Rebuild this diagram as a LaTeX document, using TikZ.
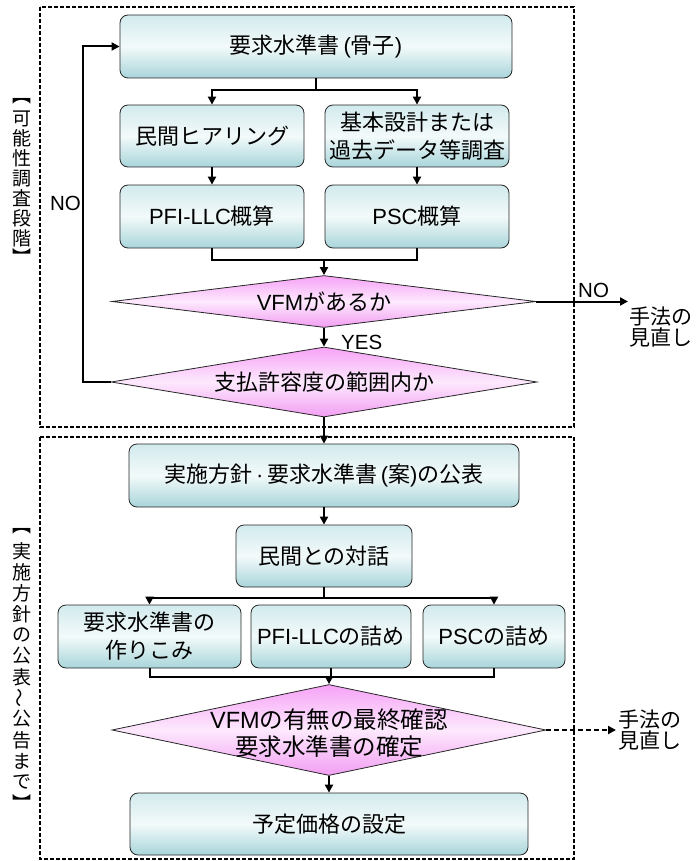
\documentclass[tikz,border=0pt]{standalone}
\usepackage{fontspec}
\usepackage{graphicx}
\setmainfont{Noto Sans CJK JP}
\newfontfamily\lat{Liberation Sans}
\usetikzlibrary{arrows.meta,shapes.geometric}
\definecolor{boxtop}{HTML}{D2EAED}
\definecolor{boxmid}{HTML}{F3FAFA}
\definecolor{boxbot}{HTML}{A8D5DA}
\definecolor{dtop}{HTML}{F6A2F6}
\definecolor{dmid}{HTML}{FDE9FD}
\definecolor{dbot}{HTML}{F29EF2}
\newcommand\msz{\fontsize{22}{28}\selectfont}
\newcommand\lsz{\fontsize{20.5}{22}\selectfont}
\newcommand\vwave{\rotatebox[origin=c]{90}{～}}
\begin{document}
\begin{tikzpicture}[x=1pt,y=-1pt,
  box/.style={draw=black!85, line width=0.8pt, rounded corners=8pt,
    top color=boxtop, bottom color=boxbot, middle color=boxmid,
    inner sep=0pt, align=center, font=\msz},
  dia/.style={diamond, draw=black!85, line width=0.8pt,
    top color=dtop, bottom color=dbot, middle color=dmid, inner sep=0pt},
  dtext/.style={align=center, inner sep=0pt, font=\msz},
  conn/.style={line width=2pt, -{Triangle[length=8pt,width=8pt]}},
  wire/.style={line width=2pt},
  dconn/.style={line width=2pt, dash pattern=on 5pt off 3pt, -{Triangle[length=8pt,width=8pt]}},
  frame/.style={line width=1.5pt, dash pattern=on 4pt off 2pt},
  lbl/.style={inner sep=0pt, font=\lsz},
  vch/.style={inner sep=0pt, font=\fontsize{19}{19}\selectfont},
  side/.style={inner sep=0pt, align=left, anchor=west, font=\fontsize{21}{20.5}\selectfont}]
\useasboundingbox (0,0) rectangle (696,861);

% frames
\draw[frame] (40,7) rectangle (574,427);
\draw[frame] (40,437) rectangle (574,859);

% vertical labels
\node[vch] (L1a) at (22,101) {︻};
\foreach \c [count=\i from 0] in {可,能,性,調,査,段,階}
  \node[vch] (L1c\i) at (22,{118.5+20*\i}) {\c};
\node[vch] (L1z) at (22,256) {︼};
\node[vch] (L2a) at (22,531) {︻};
\foreach \c [count=\i from 0] in {実,施,方,針,の,公,表,\vwave,公,告,ま,で}
  \node[vch] (L2c\i) at (22,{551+21*\i}) {\c};
\node[vch] (L2z) at (22,802) {︼};

% stage 1
\node[box, minimum width=392pt, minimum height=63pt] (b1) at (316,46.5) {要求水準書{\lat\,(}骨子{\lat )}};
\node[box, minimum width=184pt, minimum height=62pt] (b2) at (212,136) {民間ヒアリング};
\node[box, minimum width=184pt, minimum height=62pt] (b3) at (417,136) {基本設計または\\過去データ等調査};
\node[box, minimum width=184pt, minimum height=63pt] (b4) at (212,216.5) {{\lat PFI-LLC}概算};
\node[box, minimum width=184pt, minimum height=63pt] (b5) at (417,216.5) {{\lat PSC}概算};
\node[dia, minimum width=424pt, minimum height=52pt] (d1) at (324,301.5) {};
\node[dtext] (d1t) at (d1.center) {{\lat VFM}があるか};
\node[dia, minimum width=426pt, minimum height=70pt] (d2) at (324,382) {};
\node[dtext] (d2t) at (d2.center) {支払許容度の範囲内か};

\coordinate (s1) at (316,90);
\coordinate (m1) at (324,260);
\coordinate (n1) at (83,382);
\coordinate (e1) at (628,301.5);

\draw[wire] (b1.south) -- (s1);
\draw[conn] (s1) -| (b2.north);
\draw[conn] (s1) -| (b3.north);
\draw[conn] (b2.south) -- (b4.north);
\draw[conn] (b3.south) -- (b5.north);
\draw[wire] (b4.south) |- (m1) -| (b5.south);
\draw[conn] (m1) -- (d1.north);
\draw[conn] (d1.east) -- (e1);
\node[lbl, anchor=south west] (no1) at (578,298) {\lat NO};
\node[side] (t1) at (629,327) {手法の\\見直し};
\draw[conn] (d1.south) -- (d2.north);
\node[lbl, anchor=west] (yes) at (341,342) {\lat YES};
\draw[conn] (d2.west) -- (n1) |- (b1.west);
\node[lbl, anchor=east] (no2) at (81,203) {\lat NO};

% stage 2
\node[box, minimum width=390pt, minimum height=63pt] (b6) at (324,475.5) {実施方針{\lat\,·\,}要求水準書{\lat\,(}案{\lat )}の公表};
\draw[conn] (d2.south) -- (b6.north);
\node[box, minimum width=176pt, minimum height=62pt] (b7) at (324,556) {民間との対話};
\draw[conn] (b6.south) -- (b7.north);
\node[box, minimum width=183pt, minimum height=63pt] (b8) at (149.5,636.5) {要求水準書の\\作りこみ};
\node[box, minimum width=160pt, minimum height=63pt] (b9) at (331,636.5) {{\lat PFI-LLC}の詰め};
\node[box, minimum width=142pt, minimum height=63pt] (b10) at (494,636.5) {{\lat PSC}の詰め};
\coordinate (s2) at (324,598);
\draw[wire] (b7.south) -- (s2);
\draw[conn] (s2) -| (b8.north);
\draw[conn] (s2) -| (b10.north);
\node[dia, minimum width=434pt, minimum height=91pt] (d3) at (329,730) {};
\node[dtext, font=\fontsize{23.5}{27}\selectfont] (d3t) at (329,733) {{\lat VFM}の有無の最終確認\\要求水準書の確定};
\coordinate (m2) at (329,677);
\draw[wire] (b8.south) |- (m2) -| (b10.south);
\draw[wire] (b9.south) -- (b9.south |- m2);
\draw[conn] (m2) -- (d3.north);
\coordinate (e2) at (616,730);
\draw[dconn] (d3.east) -- (e2);
\node[side] (t2) at (618,730) {手法の\\見直し};
\node[box, minimum width=398pt, minimum height=62pt] (b11) at (329,824) {予定価格の設定};
\draw[conn] (d3.south) -- (b11.north);
\end{tikzpicture}
\end{document}
